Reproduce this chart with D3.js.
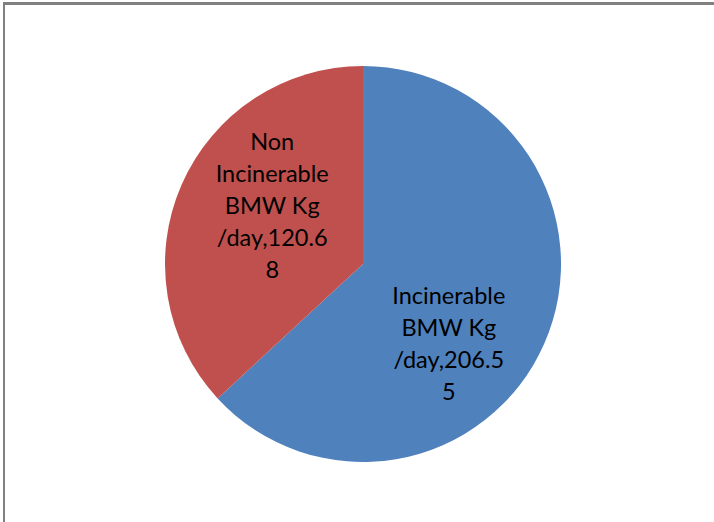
<!DOCTYPE html>
<html>
<head>
<meta charset="utf-8">
<script src="https://cdn.jsdelivr.net/npm/d3@7/dist/d3.min.js"></script>
<style>
  html, body { margin: 0; padding: 0; background: #fff; }
  svg { display: block; }
</style>
</head>
<body>
<svg id="chart" width="714" height="522"></svg>
<script>
const categories = ["Incinerable BMW Kg /day", "Non Incinerable BMW Kg /day"];
const values = [206.55, 120.68];
const colors = ["#4F81BD", "#C0504D"];
const labelLines = [
  ["Incinerable", "BMW Kg", "/day,206.5", "5"],
  ["Non", "Incinerable", "BMW Kg", "/day,120.6", "8"]
];

const svg = d3.select("#chart");
const W = 714, H = 522;

// frame
svg.append("line").attr("x1", 4).attr("y1", 3.5).attr("x2", W).attr("y2", 3.5)
  .attr("stroke", "#808080").attr("stroke-width", 3);
svg.append("line").attr("x1", 4).attr("y1", 2).attr("x2", 4).attr("y2", H)
  .attr("stroke", "#808080").attr("stroke-width", 2);

const cx = 363, cy = 264, r = 198;
const g = svg.append("g").attr("transform", `translate(${cx},${cy})`);

const data = categories.map((c, i) => ({ name: c, value: values[i], color: colors[i], lines: labelLines[i] }));
const pie = d3.pie().value(d => d.value).sort(null);
const arc = d3.arc().innerRadius(0).outerRadius(r);
const arcs = pie(data);

g.selectAll("path.slice").data(arcs).enter().append("path")
  .attr("class", "slice")
  .attr("d", arc)
  .attr("fill", d => d.data.color);

const labelOffsets = [[-4, 41], [-1, -19]];
const labelArc = d3.arc().innerRadius(0).outerRadius(r * 0.99);
const lineH = 32;
arcs.forEach((a, i) => {
  const c = labelArc.centroid(a);
  const x = c[0] + labelOffsets[i][0];
  const y = c[1] + labelOffsets[i][1];
  const n = a.data.lines.length;
  const t = g.append("text")
    .attr("text-anchor", "middle")
    .attr("font-family", "Lato, 'Open Sans', sans-serif")
    .attr("font-size", 23.5)
    .attr("fill", "#000");
  a.data.lines.forEach((ln, j) => {
    t.append("tspan")
      .attr("x", x)
      .attr("y", y + (j - (n - 1) / 2) * lineH)
      .attr("dy", "0.35em")
      .text(ln);
  });
});
</script>
</body>
</html>
